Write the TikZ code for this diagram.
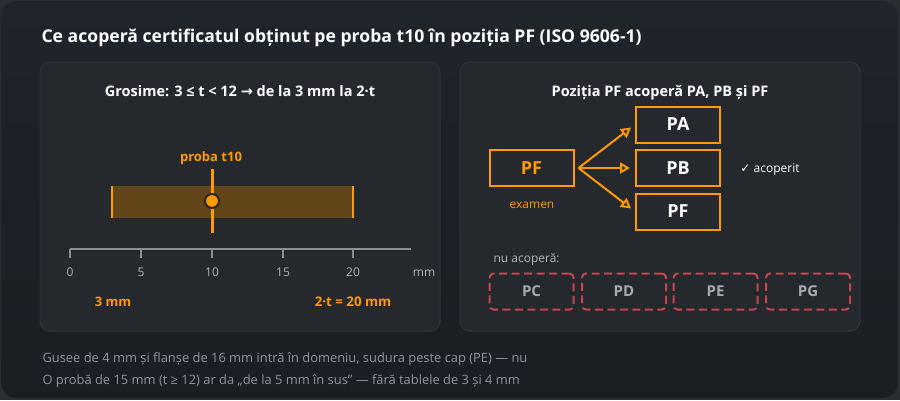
\documentclass[tikz,border=0pt]{standalone}
\usepackage{fontspec}
\setmainfont{Open Sans}
\newfontfamily\symfont{DejaVu Sans}
\usetikzlibrary{arrows.meta}
\definecolor{outbg}{HTML}{2A2D31}
\definecolor{cardtop}{HTML}{20242B}
\definecolor{cardbot}{HTML}{1B1E23}
\definecolor{cardln}{HTML}{2C3037}
\definecolor{panelbg}{HTML}{25292D}
\definecolor{panelln}{HTML}{30353A}
\definecolor{accent}{HTML}{FF9A00}
\definecolor{barfill}{HTML}{614418}
\definecolor{axisgray}{HTML}{8A8F96}
\definecolor{labgray}{HTML}{B0B5BB}
\definecolor{notegray}{HTML}{8E949C}
\definecolor{nored}{HTML}{C4474C}
\definecolor{nogray}{HTML}{A3AAB2}

\begin{document}
\begin{tikzpicture}[x=1pt,y=-1pt,
    panel/.style={fill=panelbg,draw=panelln,line width=1pt,rounded corners=10pt},
    okbox/.style={draw=accent,line width=2pt,minimum width=84pt,minimum height=36pt,inner sep=0pt,
        text=white,font=\bfseries\fontsize{18}{20}\selectfont},
    nobox/.style={draw=nored,dash pattern=on 8pt off 4.5pt,line width=2pt,rounded corners=4pt,
        minimum width=84pt,minimum height=36pt,inner sep=0pt,text=nogray,font=\bfseries\fontsize{15}{17}\selectfont},
    ptitle/.style={anchor=base,text=white,font=\bfseries\fontsize{14.5}{17}\selectfont},
    axlab/.style={anchor=base,text=labgray,font=\fontsize{12}{14}\selectfont},
    note/.style={anchor=base west,text=notegray,font=\fontsize{12.9}{15}\selectfont}]
    \useasboundingbox (0,0) rectangle (900,400);
    \fill[outbg] (0,0) rectangle (900,400);
    \shade[top color=cardtop,bottom color=cardbot,draw=cardln,rounded corners=14pt] (1,1) rectangle (898,398);
    \node[anchor=base west,text=white,font=\bfseries\fontsize{17.6}{20}\selectfont] (title) at (38,42)
        {Ce acoperă certificatul obținut pe proba t10 în poziția PF (ISO 9606-1)};

    % left panel: thickness range
    \draw[panel] (40,62) rectangle (440,331);
    \node[ptitle] (gtitle) at (240,96) {Grosime: 3 ≤ t < 12 {\symfont →} de la 3 mm la 2·t};
    \fill[barfill] (112,186) rectangle (353,218);
    \draw[accent,line width=2pt] (112,186) -- (112,218);
    \draw[accent,line width=2pt] (353,186) -- (353,218);
    \draw[accent,line width=3pt] (212,169) -- (212,233);
    \draw[fill=accent,draw=black!85,line width=2pt] (212,201) circle (7);
    \node[anchor=base,text=accent,font=\bfseries\fontsize{13}{15}\selectfont] (probe) at (211,161) {proba t10};
    \draw[axisgray,line width=2pt] (70,249) -- (411,249);
    \foreach \v/\xx in {0/70,5/141,10/212,15/283,20/353} {
        \draw[axisgray,line width=2pt] (\xx,249) -- (\xx,258);
        \node[axlab] (tk\v) at (\xx,276) {\v};
    }
    \node[axlab] (unit) at (424,276) {mm};
    \node[anchor=base,text=accent,font=\bfseries\fontsize{13}{15}\selectfont] (lo) at (113,306) {3 mm};
    \node[anchor=base,text=accent,font=\bfseries\fontsize{13.3}{15}\selectfont] (hi) at (353,306) {2·t = 20 mm};

    % right panel: positions
    \draw[panel] (460,62) rectangle (860,331);
    \node[ptitle] (ptitle) at (660,96) {Poziția PF acoperă PA, PB și PF};
    \node[okbox,text=accent] (exam) at (531.5,168) {PF};
    \node[anchor=base,text=accent,font=\fontsize{12}{14}\selectfont] (examlab) at (532,208) {examen};
    \node[okbox] (pa) at (678,124.5) {PA};
    \node[okbox] (pb) at (678,168) {PB};
    \node[okbox] (pf) at (678,211.5) {PF};
    \coordinate (fork) at ([xshift=4pt]exam.east);
    \foreach \t in {pa,pb,pf}
        \draw[accent,line width=2pt,-{Triangle[open,length=10pt,width=11pt]},shorten >=5pt] (fork) -- (\t.west);
    \node[anchor=base,text=white,font=\fontsize{12}{14}\selectfont] (ok) at (770,172) {{\symfont ✓} acoperit};
    \node[anchor=base west,text=labgray,font=\fontsize{12}{14}\selectfont] (notlab) at (490,262) {nu acoperă:};
    \node[nobox] (pc) at (531.5,291.5) {PC};
    \node[nobox] (pd) at (624,291.5) {PD};
    \node[nobox] (pe) at (715.5,291.5) {PE};
    \node[nobox] (pg) at (808,291.5) {PG};

    % notes
    \node[note] (n1) at (39,362) {Gusee de 4 mm și flanșe de 16 mm intră în domeniu, sudura peste cap (PE) — nu};
    \node[note] (n2) at (39,384) {O probă de 15 mm (t ≥ 12) ar da „de la 5 mm în sus” — fără tablele de 3 și 4 mm};
\end{tikzpicture}
\end{document}
